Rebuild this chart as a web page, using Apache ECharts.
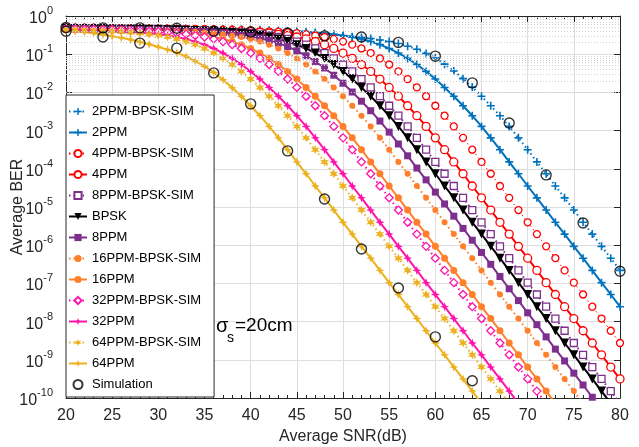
<!DOCTYPE html>
<html><head><meta charset="utf-8">
<script src="https://cdn.jsdelivr.net/npm/echarts@6/dist/echarts.min.js"></script>
<style>html,body{margin:0;padding:0;background:#fff}#c{width:639px;height:447px}</style>
</head><body><div id="c"></div>
<script>
// SNR axis (dB), 1 dB steps
const snrDb = [20,21,22,23,24,25,26,27,28,29,30,31,32,33,34,35,36,37,38,39,40,41,42,43,44,45,46,47,48,49,50,51,52,53,54,55,56,57,58,59,60,61,62,63,64,65,66,67,68,69,70,71,72,73,74,75,76,77,78,79,80];
// log10(BER), each array starts at 20 dB
const log2ppmSim = [-0.29,-0.30,-0.30,-0.31,-0.31,-0.32,-0.32,-0.33,-0.33,-0.34,-0.34,-0.35,-0.35,-0.36,-0.36,-0.37,-0.38,-0.38,-0.39,-0.39,-0.40,-0.40,-0.41,-0.42,-0.43,-0.44,-0.45,-0.46,-0.48,-0.50,-0.52,-0.54,-0.56,-0.59,-0.63,-0.67,-0.72,-0.79,-0.87,-0.98,-1.10,-1.26,-1.44,-1.64,-1.86,-2.10,-2.35,-2.61,-2.89,-3.19,-3.50,-3.82,-4.13,-4.45,-4.76,-5.08,-5.40,-5.71,-6.03,-6.34,-6.66];
const log2ppm = [-0.31,-0.31,-0.31,-0.31,-0.31,-0.32,-0.32,-0.32,-0.32,-0.32,-0.33,-0.33,-0.33,-0.33,-0.34,-0.34,-0.34,-0.34,-0.35,-0.35,-0.36,-0.36,-0.37,-0.38,-0.39,-0.40,-0.41,-0.43,-0.45,-0.48,-0.51,-0.55,-0.60,-0.67,-0.75,-0.85,-0.97,-1.11,-1.27,-1.45,-1.65,-1.87,-2.10,-2.35,-2.61,-2.89,-3.19,-3.50,-3.82,-4.13,-4.45,-4.76,-5.08,-5.40,-5.71,-6.03,-6.34,-6.66,-6.98,-7.29,-7.61];
const log4ppmSim = [-0.31,-0.31,-0.32,-0.32,-0.32,-0.32,-0.32,-0.33,-0.33,-0.33,-0.33,-0.34,-0.34,-0.34,-0.34,-0.35,-0.35,-0.36,-0.36,-0.37,-0.38,-0.39,-0.40,-0.41,-0.43,-0.45,-0.48,-0.51,-0.55,-0.60,-0.67,-0.75,-0.85,-0.97,-1.11,-1.27,-1.45,-1.65,-1.87,-2.10,-2.35,-2.61,-2.89,-3.19,-3.50,-3.82,-4.13,-4.45,-4.76,-5.08,-5.40,-5.71,-6.03,-6.34,-6.66,-6.98,-7.29,-7.61,-7.92,-8.24,-8.56];
const log4ppm = [-0.32,-0.32,-0.32,-0.32,-0.33,-0.33,-0.33,-0.33,-0.34,-0.34,-0.34,-0.34,-0.35,-0.35,-0.36,-0.36,-0.37,-0.38,-0.39,-0.40,-0.41,-0.43,-0.45,-0.48,-0.51,-0.55,-0.60,-0.67,-0.75,-0.85,-0.97,-1.11,-1.27,-1.45,-1.65,-1.87,-2.10,-2.35,-2.61,-2.89,-3.19,-3.50,-3.82,-4.13,-4.45,-4.76,-5.08,-5.40,-5.71,-6.03,-6.34,-6.66,-6.98,-7.29,-7.61,-7.92,-8.24,-8.56,-8.87,-9.19,-9.50];
const log8ppmSim = [-0.32,-0.32,-0.33,-0.33,-0.33,-0.33,-0.34,-0.34,-0.34,-0.34,-0.35,-0.35,-0.36,-0.36,-0.37,-0.38,-0.39,-0.40,-0.41,-0.43,-0.45,-0.48,-0.51,-0.55,-0.60,-0.67,-0.75,-0.85,-0.97,-1.11,-1.27,-1.45,-1.65,-1.87,-2.10,-2.35,-2.61,-2.89,-3.19,-3.50,-3.82,-4.13,-4.45,-4.76,-5.08,-5.40,-5.71,-6.03,-6.34,-6.66,-6.98,-7.29,-7.61,-7.92,-8.24,-8.56,-8.87,-9.19,-9.50,-9.82,-10.14];
const logBpsk = [-0.32,-0.33,-0.33,-0.33,-0.33,-0.34,-0.34,-0.34,-0.34,-0.35,-0.35,-0.36,-0.36,-0.37,-0.38,-0.39,-0.40,-0.41,-0.43,-0.45,-0.48,-0.51,-0.55,-0.60,-0.67,-0.75,-0.85,-0.97,-1.11,-1.27,-1.45,-1.65,-1.87,-2.10,-2.35,-2.61,-2.89,-3.19,-3.50,-3.82,-4.13,-4.45,-4.76,-5.08,-5.40,-5.71,-6.03,-6.34,-6.66,-6.98,-7.29,-7.61,-7.92,-8.24,-8.56,-8.87,-9.19,-9.50,-9.82,-10.14,-10.45];
const log8ppm = [-0.33,-0.33,-0.33,-0.34,-0.34,-0.34,-0.34,-0.35,-0.35,-0.36,-0.36,-0.37,-0.38,-0.39,-0.40,-0.41,-0.42,-0.44,-0.47,-0.50,-0.53,-0.58,-0.64,-0.71,-0.80,-0.91,-1.04,-1.19,-1.36,-1.55,-1.76,-1.99,-2.23,-2.48,-2.75,-3.04,-3.35,-3.66,-3.98,-4.29,-4.61,-4.92,-5.24,-5.56,-5.87,-6.19,-6.50,-6.82,-7.14,-7.45,-7.77,-8.08,-8.40,-8.72,-9.03,-9.35,-9.66,-9.98,-10.30];
const log16ppmSim = [-0.33,-0.33,-0.34,-0.34,-0.34,-0.34,-0.35,-0.35,-0.36,-0.36,-0.37,-0.38,-0.39,-0.40,-0.41,-0.43,-0.45,-0.48,-0.51,-0.55,-0.60,-0.67,-0.75,-0.85,-0.97,-1.11,-1.27,-1.45,-1.65,-1.87,-2.10,-2.35,-2.61,-2.89,-3.19,-3.50,-3.82,-4.13,-4.45,-4.76,-5.08,-5.40,-5.71,-6.03,-6.34,-6.66,-6.98,-7.29,-7.61,-7.92,-8.24,-8.56,-8.87,-9.19,-9.50,-9.82,-10.14];
const log16ppm = [-0.34,-0.34,-0.34,-0.35,-0.35,-0.36,-0.36,-0.37,-0.38,-0.39,-0.40,-0.41,-0.43,-0.45,-0.48,-0.51,-0.55,-0.60,-0.67,-0.75,-0.85,-0.97,-1.11,-1.27,-1.45,-1.65,-1.87,-2.10,-2.35,-2.61,-2.89,-3.19,-3.50,-3.82,-4.13,-4.45,-4.76,-5.08,-5.40,-5.71,-6.03,-6.34,-6.66,-6.98,-7.29,-7.61,-7.92,-8.24,-8.56,-8.87,-9.19,-9.50,-9.82,-10.14];
const log32ppmSim = [-0.34,-0.34,-0.35,-0.35,-0.36,-0.36,-0.37,-0.38,-0.39,-0.40,-0.41,-0.43,-0.45,-0.48,-0.51,-0.55,-0.60,-0.67,-0.75,-0.85,-0.97,-1.11,-1.27,-1.45,-1.65,-1.87,-2.10,-2.35,-2.61,-2.89,-3.19,-3.50,-3.82,-4.13,-4.45,-4.76,-5.08,-5.40,-5.71,-6.03,-6.34,-6.66,-6.98,-7.29,-7.61,-7.92,-8.24,-8.56,-8.87,-9.19,-9.50,-9.82,-10.14];
const log32ppm = [-0.35,-0.36,-0.36,-0.37,-0.38,-0.39,-0.40,-0.41,-0.43,-0.45,-0.48,-0.51,-0.55,-0.60,-0.67,-0.75,-0.85,-0.97,-1.11,-1.27,-1.45,-1.65,-1.87,-2.10,-2.35,-2.61,-2.89,-3.19,-3.50,-3.82,-4.13,-4.45,-4.76,-5.08,-5.40,-5.71,-6.03,-6.34,-6.66,-6.98,-7.29,-7.61,-7.92,-8.24,-8.56,-8.87,-9.19,-9.50,-9.82,-10.14];
const log64ppmSim = [-0.36,-0.36,-0.37,-0.38,-0.39,-0.40,-0.41,-0.43,-0.45,-0.48,-0.51,-0.55,-0.60,-0.67,-0.75,-0.85,-0.97,-1.11,-1.27,-1.45,-1.65,-1.87,-2.10,-2.35,-2.61,-2.89,-3.19,-3.50,-3.82,-4.13,-4.45,-4.76,-5.08,-5.40,-5.71,-6.03,-6.34,-6.66,-6.98,-7.29,-7.61,-7.92,-8.24,-8.56,-8.87,-9.19,-9.50,-9.82,-10.14];
const log64ppm = [-0.38,-0.40,-0.42,-0.45,-0.49,-0.53,-0.57,-0.62,-0.68,-0.74,-0.81,-0.88,-0.96,-1.06,-1.18,-1.32,-1.48,-1.67,-1.88,-2.10,-2.35,-2.61,-2.89,-3.19,-3.50,-3.82,-4.13,-4.45,-4.76,-5.08,-5.40,-5.71,-6.03,-6.34,-6.66,-6.98,-7.29,-7.61,-7.92,-8.24,-8.56,-8.87,-9.19,-9.50,-9.82,-10.14];
// Monte-Carlo simulation circles
const simSnrA = [20,24,28,32,36,40,44,48,52,56,60,64,68,72,76,80];
const simLogA = [-0.30,-0.31,-0.31,-0.32,-0.40,-0.42,-0.445,-0.52,-0.55,-0.69,-1.05,-1.75,-2.80,-4.16,-5.42,-6.68];
const simSnrB = [20,24,28,32,36,40,44,48,52,56,60,64];
const simLogB = [-0.40,-0.55,-0.71,-0.84,-1.49,-2.30,-3.53,-4.79,-6.10,-7.12,-8.40,-9.55];
const yTickExp = [-10,-9,-8,-7,-6,-5,-4,-3,-2,-1,0];

const FONT = "'Liberation Sans', Arial, Helvetica, sans-serif";
const COL = {blue:'#0072BD', red:'#FF0000', purple:'#7E2F8E', black:'#000000', orange:'#FF7F2A', magenta:'#FF14AA', gold:'#EDB120'};
const PLUS = 'path://M4,0H6V4H10V6H6V10H4V6H0V4H4Z';
const STAR4 = 'path://M5,0L6.3,3.7L10,5L6.3,6.3L5,10L3.7,6.3L0,5L3.7,3.7Z';
const STAR6 = 'path://M5,0L6.1,3.1L9.33,2.5L7.2,5L9.33,7.5L6.1,6.9L5,10L3.9,6.9L0.67,7.5L2.8,5L0.67,2.5L3.9,3.1Z';

function mk(name, logs, color, dotted, symbol, size, lw, empty) {
  return {
    name, type:'line', xAxisIndex:0, yAxisIndex:0,
    data: logs.map((v,i)=>[snrDb[i], Math.pow(10, v)]),
    symbol, symbolSize:size, showSymbol:true, showAllSymbol:true, clip:true,
    lineStyle:{color, width:lw, type: dotted ? [1.5,3] : 'solid'},
    itemStyle: empty ? {color:'#fff', borderColor:color, borderWidth:1.3} : {color},
    emphasis:{disabled:true}, animation:false, z:3
  };
}
const minorGrid = [];
yTickExp.slice(0,-1).forEach(e=>{ for (let m=2;m<=9;m++) minorGrid.push({yAxis: m*Math.pow(10,e)}); });

const series = [
  {type:'line', name:'_grid', data:[], silent:true, z:1, animation:false,
   markLine:{silent:true, animation:false, symbol:['none','none'], label:{show:false},
     lineStyle:{type:[1,2], color:'#d0d0d0', width:1}, emphasis:{disabled:true}, data:minorGrid}},
  mk('2PPM-BPSK-SIM', log2ppmSim, COL.blue, true, PLUS, 8, 2, false),
  mk('2PPM', log2ppm, COL.blue, false, PLUS, 8, 2, false),
  mk('4PPM-BPSK-SIM', log4ppmSim, COL.red, true, 'circle', 7, 1, true),
  mk('4PPM', log4ppm, COL.red, false, 'circle', 8, 2, true),
  mk('8PPM-BPSK-SIM', log8ppmSim, COL.purple, true, 'rect', 7, 2, true),
  mk('BPSK', logBpsk, COL.black, false, 'triangle', 9, 2, false),
  mk('8PPM', log8ppm, COL.purple, false, 'rect', 7, 2, false),
  mk('16PPM-BPSK-SIM', log16ppmSim, COL.orange, true, 'circle', 6, 2, false),
  mk('16PPM', log16ppm, COL.orange, false, 'circle', 7, 2, false),
  mk('32PPM-BPSK-SIM', log32ppmSim, COL.magenta, true, 'diamond', 8, 2, true),
  mk('32PPM', log32ppm, COL.magenta, false, STAR4, 9, 2, false),
  mk('64PPM-BPSK-SIM', log64ppmSim, COL.gold, true, STAR6, 9, 2, false),
  mk('64PPM', log64ppm, COL.gold, false, STAR4, 9, 2, false),
  {name:'Simulation', type:'scatter', data: simLogA.map((v,i)=>[simSnrA[i], Math.pow(10,v)]),
   symbol:'circle', symbolSize:10, itemStyle:{color:'rgba(0,0,0,0)', borderColor:'#000', borderWidth:1.4}, z:5, animation:false, emphasis:{disabled:true}},
  {name:'Simulation', type:'scatter', data: simLogB.map((v,i)=>[simSnrB[i], Math.pow(10,v)]),
   symbol:'circle', symbolSize:10, itemStyle:{color:'rgba(0,0,0,0)', borderColor:'#000', borderWidth:1.4}, z:5, animation:false, emphasis:{disabled:true}}
];
series.filter(s=>s.name==='BPSK').forEach(s=>s.symbolRotate=180);

const axisCol = '#262626';
const chart = echarts.init(document.getElementById('c'), null, {renderer:'canvas'});
chart.setOption({
  backgroundColor:'#fff',
  animation:false,
  grid:{left:66, right:19, top:16, bottom:49, containLabel:false, outerBoundsMode:'none'},
  legend:{
    orient:'vertical', left:66, top:95, itemWidth:18, itemHeight:9, itemGap:8,
    padding:[10,13,6,2], backgroundColor:'#fff', borderColor:axisCol, borderWidth:1,
    textStyle:{fontSize:13, fontFamily:FONT, color:'#000'},
    selectedMode:false,
    data:['2PPM-BPSK-SIM','2PPM','4PPM-BPSK-SIM','4PPM','8PPM-BPSK-SIM','BPSK','8PPM','16PPM-BPSK-SIM','16PPM','32PPM-BPSK-SIM','32PPM','64PPM-BPSK-SIM','64PPM','Simulation']
  },
  xAxis:[{
    type:'value', min:20, max:80, interval:5, position:'bottom',
    name:'Average SNR(dB)', nameLocation:'middle', nameGap:31, nameMoveOverlap:false,
    nameTextStyle:{fontSize:16, fontFamily:FONT, color:axisCol},
    axisLine:{show:true, lineStyle:{color:axisCol, width:1}},
    axisTick:{show:true, inside:true, length:6, lineStyle:{color:axisCol}},
    minorTick:{show:true, splitNumber:5, length:3, lineStyle:{color:axisCol}},
    axisLabel:{fontSize:16, fontFamily:FONT, color:axisCol, margin:10},
    splitLine:{show:true, lineStyle:{color:'#dedede', width:1}}
  },{
    type:'value', min:20, max:80, interval:5, position:'top',
    axisLine:{show:true, lineStyle:{color:axisCol, width:1}},
    axisTick:{show:true, inside:true, length:6, lineStyle:{color:axisCol}},
    minorTick:{show:true, splitNumber:5, length:3, lineStyle:{color:axisCol}},
    axisLabel:{show:false}, splitLine:{show:false}
  }],
  yAxis:[{
    type:'log', logBase:10, min:1e-10, max:1, interval:1, position:'left',
    name:'Average BER', nameLocation:'middle', nameGap:40, nameMoveOverlap:false,
    nameTextStyle:{fontSize:16, fontFamily:FONT, color:axisCol},
    axisLine:{show:true, lineStyle:{color:axisCol, width:1}},
    axisTick:{show:true, inside:true, length:6, lineStyle:{color:axisCol}},
    axisLabel:{fontFamily:FONT, fontSize:16, color:axisCol, margin:13, align:'right',
      formatter:v=>'{b|10}{s|'+Math.round(Math.log10(v))+'}',
      rich:{b:{fontSize:16, fontFamily:FONT, color:axisCol, padding:[5,0,0,0], verticalAlign:'bottom'},
            s:{fontSize:11, fontFamily:FONT, color:axisCol, verticalAlign:'top'}}},
    splitLine:{show:true, lineStyle:{color:'#dedede', width:1}}
  },{
    type:'log', logBase:10, min:1e-10, max:1, interval:1, position:'right',
    axisLine:{show:true, lineStyle:{color:axisCol, width:1}},
    axisTick:{show:true, inside:true, length:6, lineStyle:{color:axisCol}},
    axisLabel:{show:false}, splitLine:{show:false}
  }],
  graphic:[
    {type:'text', x:216, y:316, z:10, style:{text:'σ', fontSize:20, fontFamily:FONT, fill:'#000'}},
    {type:'text', x:227, y:331, z:10, style:{text:'s', fontSize:14, fontFamily:FONT, fill:'#000'}},
    {type:'text', x:235, y:316, z:10, style:{text:'=20cm', fontSize:19, fontFamily:FONT, fill:'#000'}}
  ],
  series
});
</script></body></html>
